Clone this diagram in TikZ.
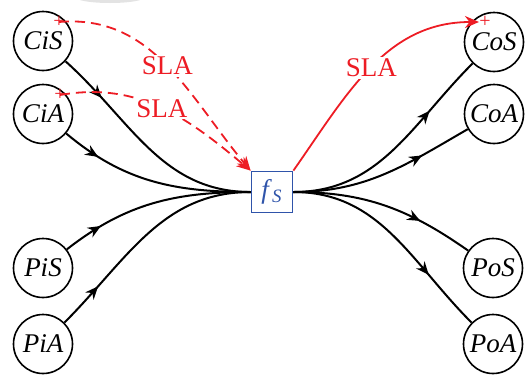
\documentclass[tikz,border=0pt]{standalone}
\usepackage{fontspec}
\setmainfont{Liberation Serif}
\usetikzlibrary{arrows.meta,decorations.markings}
\definecolor{slared}{RGB}{237,28,36}
\definecolor{fblue}{RGB}{47,84,170}
\begin{document}
\begin{tikzpicture}[x=0.5pt,y=0.5pt,
		port/.style={circle,draw,line width=0.8pt,minimum size=29.5pt,inner sep=0pt,font=\fontsize{13.5}{15}\selectfont\itshape},
		fbox/.style={draw=fblue,line width=0.9pt,minimum size=20.5pt,inner sep=0pt,text=fblue,font=\fontsize{13.5}{15}\selectfont},
		flow/.style={line width=1pt,postaction={decorate},decoration={markings,mark=at position #1 with {\arrow{Stealth[length=6.5pt,width=5.5pt]}}}},
		sla/.style={draw=slared,line width=0.9pt,-{Stealth[length=7pt,width=6pt]}},
		slalabel/.style={text=slared,fill=white,inner sep=1pt,font=\fontsize{13.5}{15}\selectfont},
		plusmark/.style={text=slared,inner sep=0pt,font=\fontsize{10}{10}\selectfont}]
		\useasboundingbox (0,0) rectangle (530,-376);
		\fill [gray!22] (110,3) ellipse (35 and 6);
		\node [port] (CiS) at (43,-41) {CiS};
		\node [port] (CiA) at (43,-114) {CiA};
		\node [port] (PiS) at (43,-268) {PiS};
		\node [port] (PiA) at (43,-344) {PiA};
		\node [port] (CoS) at (494,-42) {CoS};
		\node [port] (CoA) at (494,-114) {CoA};
		\node [port] (PoS) at (493,-268) {PoS};
		\node [port] (PoA) at (493,-344) {PoA};
		\node [fbox] (fS) at (272,-192) {\textit{f}\textsubscript{\textit{S}}};
		\draw [flow=0.22] (CiS) to[out=-42,in=180] (fS.west);
		\draw [flow=0.2] (CiA) to[out=-40,in=180] (fS.west);
		\draw [flow=0.21] (PiS) to[out=38,in=180] (fS.west);
		\draw [flow=0.21] (PiA) to[out=45,in=180] (fS.west);
		\draw [flow=0.72] (fS.east) to[out=0,in=-135] (CoS);
		\draw [flow=0.72] (fS.east) to[out=0,in=-150] (CoA);
		\draw [flow=0.7] (fS.east) to[out=0,in=145] (PoS);
		\draw [flow=0.72] (fS.east) to[out=0,in=135] (PoA);
		\node [plusmark] (sCiS) at (59,-22) {+};
		\node [plusmark] (sCiA) at (60,-95) {+};
		\node [plusmark] (eCoS) at (485,-22) {+};
		\draw [sla,dashed,dash pattern=on 5pt off 3pt] (sCiS.center) to[out=5,in=130] node [slalabel] {SLA} (fS.north west);
		\draw [sla,dashed,dash pattern=on 5pt off 3pt] (sCiA.center) to[out=10,in=140] node [slalabel] {SLA} (fS.north west);
		\draw [sla] (fS.north east) to[out=55,in=180] node [slalabel] {SLA} (eCoS.west);
\end{tikzpicture}
\end{document}
